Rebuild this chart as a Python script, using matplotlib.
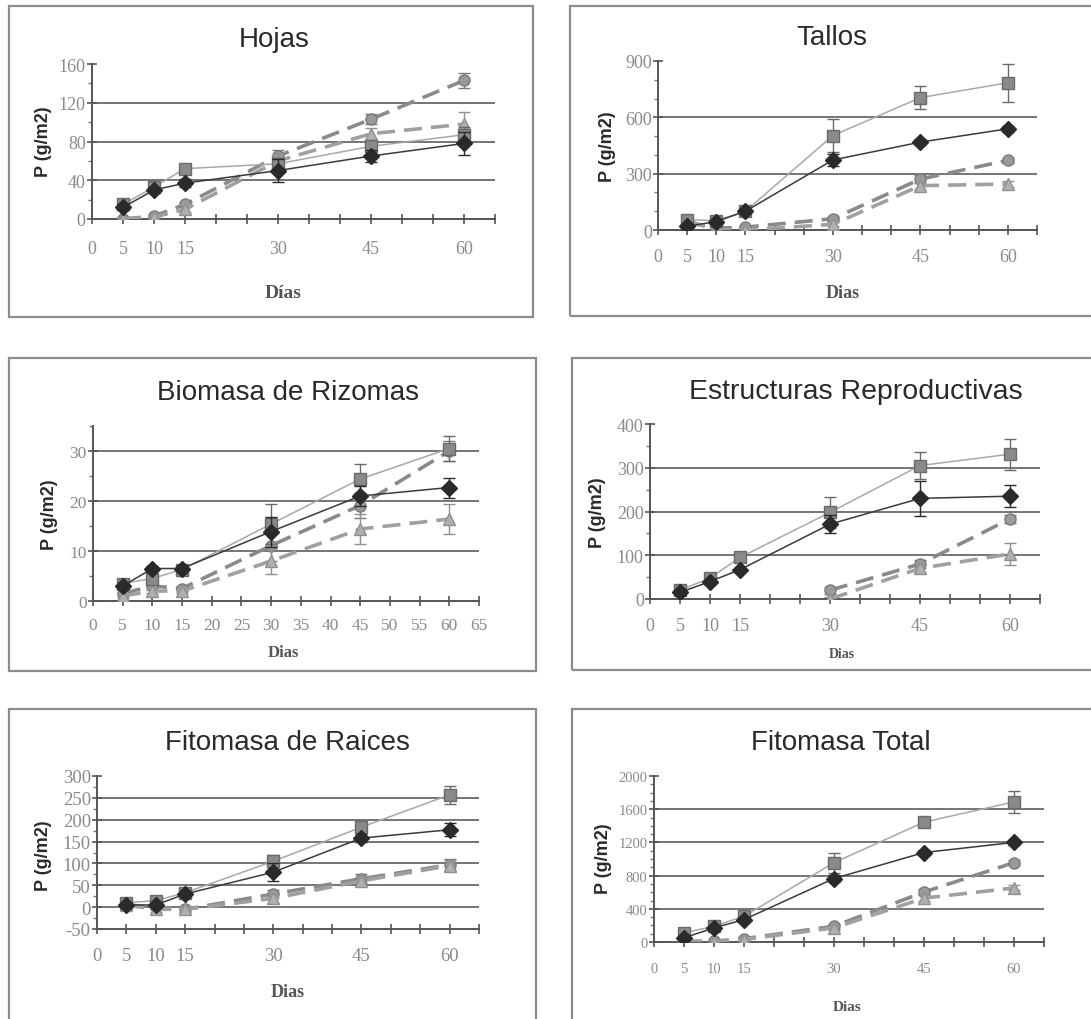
import numpy as np
import matplotlib
matplotlib.use("Agg")
import matplotlib.pyplot as plt
from matplotlib.patches import Rectangle
from matplotlib.ticker import MultipleLocator

plt.rcParams["axes.unicode_minus"] = False

nan = np.nan
dias = [5, 10, 15, 30, 45, 60]

# Hojas
hojas_diamante = [12, 30, 37, 50, 65, 78]
hojas_cuadrado = [15, 33, 52, 57, 75, 87]
hojas_circulo = [0, 3, 15, 65, 103, 143]
hojas_triangulo = [0, 2, 10, 60, 88, 98]
hojas_err_diamante = [3, 3, 4, 12, 6, 12]
hojas_err_cuadrado = [3, 3, 3, 6, 5, 8]
hojas_err_circulo = [2, 2, 3, 6, 5, 8]
hojas_err_triangulo = [1, 1, 3, 8, 6, 12]

# Tallos
tallos_diamante = [20, 45, 100, 373, 468, 539]
tallos_cuadrado = [55, 50, 100, 503, 705, 784]
tallos_circulo = [40, 10, 15, 60, 271, 371]
tallos_triangulo = [50, 0, 0, 30, 236, 245]
tallos_err_diamante = [5, 5, 10, 30, 15, 15]
tallos_err_cuadrado = [10, 10, 20, 90, 60, 100]
tallos_err_circulo = [5, 5, 5, 10, 20, 15]
tallos_err_triangulo = [5, 5, 5, 10, 15, 15]

# Biomasa de Rizomas
rizomas_diamante = [3, 6.5, 6.5, 13.9, 21, 22.7]
rizomas_cuadrado = [3.5, 4.5, 6.3, 15.4, 24.4, 30.5]
rizomas_circulo = [1.5, 3, 2.5, 11.1, 19.1, 30]
rizomas_triangulo = [1, 2, 2, 8, 14.4, 16.4]
rizomas_err_diamante = [0.3, 0.5, 0.5, 3, 2, 2]
rizomas_err_cuadrado = [0.5, 0.5, 0.5, 4, 3, 2.5]
rizomas_err_circulo = [0.3, 0.3, 0.3, 3, 2.5, 2]
rizomas_err_triangulo = [0.3, 0.3, 0.3, 2.5, 3, 3]

# Estructuras Reproductivas
reprod_diamante = [15, 40, 67, 171, 230, 235]
reprod_cuadrado = [20, 48, 95, 198, 305, 331]
reprod_circulo = [nan, nan, nan, 20, 80, 183]
reprod_triangulo = [nan, nan, nan, 0, 70, 103]
reprod_err_diamante = [5, 5, 5, 20, 40, 25]
reprod_err_cuadrado = [5, 5, 8, 35, 30, 35]
reprod_err_circulo = [nan, nan, nan, 8, 10, 10]
reprod_err_triangulo = [nan, nan, nan, 5, 10, 25]

# Fitomasa de Raices
raices_diamante = [5, 5, 30, 80, 158, 177]
raices_cuadrado = [10, 15, 33, 105, 183, 257]
raices_circulo = [5, 0, -5, 30, 65, 97]
raices_triangulo = [5, -5, -5, 20, 60, 95]
raices_err_diamante = [5, 5, 5, 20, 10, 15]
raices_err_cuadrado = [5, 5, 8, 15, 10, 20]
raices_err_circulo = [5, 5, 5, 10, 10, 12]
raices_err_triangulo = [5, 5, 5, 10, 10, 12]

# Fitomasa Total
total_diamante = [50, 170, 270, 765, 1078, 1200]
total_cuadrado = [110, 190, 310, 956, 1444, 1688]
total_circulo = [10, 10, 40, 190, 602, 956]
total_triangulo = [0, 0, 30, 170, 529, 651]
total_err_diamante = [20, 20, 30, 40, 30, 30]
total_err_cuadrado = [30, 30, 40, 120, 60, 130]
total_err_circulo = [10, 10, 10, 30, 40, 30]
total_err_triangulo = [10, 10, 10, 30, 40, 30]

W, H = 1091, 1020
fig = plt.figure(figsize=(W / 100, H / 100), dpi=100)
fig.patch.set_facecolor("white")

SERIF = "Liberation Serif"
SANS = "Liberation Sans"


def fx(x):
    return x / W


def fy(y):
    return 1 - y / H


panels = [
    dict(title="Hojas", xlabel="Días",
         box=(9, 7, 533, 318), ax=(92, 65, 495, 220), ylim=(0, 160), major=40, minor=20,
         grid=[40, 80, 120], title_xy=(274, 40), tsize=20, ylab_xy=(43, 142),
         xlab_xy=(283, 293), xlsize=14, ticksize=13, xpad=11.5,
         xlabels=[0, 5, 10, 15, 30, 45, 60],
         data=(hojas_diamante, hojas_cuadrado, hojas_circulo, hojas_triangulo),
         err=(hojas_err_diamante, hojas_err_cuadrado, hojas_err_circulo, hojas_err_triangulo)),
    dict(title="Tallos", xlabel="Dias",
         box=(570, 7, 1100, 317), ax=(658, 62, 1037, 231), ylim=(0, 900), major=300, minor=100,
         grid=[300, 600], title_xy=(832, 38), tsize=20, ylab_xy=(608, 147),
         xlab_xy=(843, 293), xlsize=13, ticksize=13, xpad=9.5,
         xlabels=[0, 5, 10, 15, 30, 45, 60],
         data=(tallos_diamante, tallos_cuadrado, tallos_circulo, tallos_triangulo),
         err=(tallos_err_diamante, tallos_err_cuadrado, tallos_err_circulo, tallos_err_triangulo)),
    dict(title="Biomasa de Rizomas", xlabel="Dias",
         box=(9, 359, 536, 672), ax=(93, 427, 479, 602), ylim=(0, 35), major=10, minor=5,
         grid=[10, 20, 30], title_xy=(288, 393), tsize=20, ylab_xy=(50, 515),
         xlab_xy=(283, 653), xlsize=12, ticksize=12.5, xpad=8,
         xlabels=list(range(0, 70, 5)),
         data=(rizomas_diamante, rizomas_cuadrado, rizomas_circulo, rizomas_triangulo),
         err=(rizomas_err_diamante, rizomas_err_cuadrado, rizomas_err_circulo, rizomas_err_triangulo)),
    dict(title="Estructuras Reproductivas", xlabel="Dias",
         box=(572, 359, 1100, 671), ax=(650, 425, 1040, 600), ylim=(0, 400), major=100, minor=50,
         grid=[100, 200, 300], title_xy=(856, 392), tsize=20.5, ylab_xy=(597, 513),
         xlab_xy=(842, 655), xlsize=10, ticksize=13, xpad=9.5,
         xlabels=[0, 5, 10, 15, 30, 45, 60],
         data=(reprod_diamante, reprod_cuadrado, reprod_circulo, reprod_triangulo),
         err=(reprod_err_diamante, reprod_err_cuadrado, reprod_err_circulo, reprod_err_triangulo)),
    dict(title="Fitomasa de Raices", xlabel="Dias",
         box=(9, 710, 536, 1040), ax=(97, 777, 479, 930), ylim=(-50, 300), major=50, minor=25,
         grid=[0, 50, 100, 150, 200, 250], title_xy=(287, 743), tsize=20, ylab_xy=(43, 856),
         xlab_xy=(288, 993), xlsize=13, ticksize=13.5, xpad=9.5,
         xlabels=[0, 5, 10, 15, 30, 45, 60],
         data=(raices_diamante, raices_cuadrado, raices_circulo, raices_triangulo),
         err=(raices_err_diamante, raices_err_cuadrado, raices_err_circulo, raices_err_triangulo)),
    dict(title="Fitomasa Total", xlabel="Dias",
         box=(572, 710, 1100, 1040), ax=(654, 777, 1044, 943), ylim=(0, 2000), major=400, minor=100,
         grid=[400, 800, 1200, 1600], title_xy=(841, 743), tsize=20, ylab_xy=(604, 859),
         xlab_xy=(847, 1008), xlsize=11, ticksize=10.5, xpad=11,
         xlabels=[0, 5, 10, 15, 30, 45, 60],
         data=(total_diamante, total_cuadrado, total_circulo, total_triangulo),
         err=(total_err_diamante, total_err_cuadrado, total_err_circulo, total_err_triangulo)),
]

styles = [
    dict(marker="D", ms=8, mfc="#2a2a2a", mec="#2a2a2a", color="#3a3a3a", lw=1.1, ls="-", z=5),
    dict(marker="s", ms=8.5, mfc="#8a8a8a", mec="#6a6a6a", color="#a8a8a8", lw=1.1, ls="-", z=4),
    dict(marker="o", ms=8, mfc="#9a9a9a", mec="#7a7a7a", color="#8a8a8a", lw=2.6, ls=(0, (5, 2.5)), z=3),
    dict(marker="^", ms=9, mfc="#b0b0b0", mec="#909090", color="#a0a0a0", lw=2.6, ls=(0, (5, 2.5)), z=3),
]

for p in panels:
    x0, y0, x1, y1 = p["box"]
    fig.patches.append(Rectangle((fx(x0), fy(y1)), fx(x1 - x0), (y1 - y0) / H,
                                 transform=fig.transFigure, fill=False,
                                 edgecolor="#8c8c8c", linewidth=1.6, zorder=0))
    ax0, ay0, ax1, ay1 = p["ax"]
    ax = fig.add_axes([fx(ax0), fy(ay1), fx(ax1 - ax0), (ay1 - ay0) / H])
    ax.set_facecolor("none")
    ax.set_xlim(0, 65)
    ax.set_ylim(*p["ylim"])
    for g in p["grid"]:
        ax.axhline(g, color="#6a6a6a", lw=1.3, zorder=1)
    for d, e, s in zip(p["data"], p["err"], styles):
        ax.errorbar(dias, d, yerr=e, fmt="none", ecolor=s["mec"], elinewidth=1.0,
                    capsize=4, capthick=1.0, zorder=s["z"])
        ax.plot(dias, d, marker=s["marker"], ms=s["ms"], mfc=s["mfc"], mec=s["mec"],
                color=s["color"], lw=s["lw"], ls=s["ls"], zorder=s["z"])
    for side in ("top", "right"):
        ax.spines[side].set_visible(False)
    for side in ("left", "bottom"):
        ax.spines[side].set_color("#555555")
        ax.spines[side].set_linewidth(1.4)
    ax.yaxis.set_major_locator(MultipleLocator(p["major"]))
    ax.yaxis.set_minor_locator(MultipleLocator(p["minor"]))
    xt = list(range(0, 70, 5))
    ax.set_xticks(xt)
    ax.set_xticklabels([str(v) if v in p["xlabels"] else "" for v in xt])
    ax.tick_params(axis="x", direction="inout", length=7, width=1.2, color="#555555",
                   pad=p["xpad"], labelsize=p["ticksize"], labelcolor="#8a8a8a")
    ax.tick_params(axis="y", which="major", direction="inout", length=7, width=1.2,
                   color="#555555", pad=1, labelsize=p["ticksize"], labelcolor="#8a8a8a")
    ax.tick_params(axis="y", which="minor", direction="out", length=3, width=1.0,
                   color="#777777")
    for lab in ax.get_xticklabels() + ax.get_yticklabels():
        lab.set_fontfamily(SERIF)
    tx, ty = p["title_xy"]
    fig.text(fx(tx), fy(ty), p["title"], ha="center", va="center",
             fontsize=p["tsize"], family=SANS, color="#2a2a2a")
    lx, ly = p["ylab_xy"]
    fig.text(fx(lx), fy(ly), "P (g/m2)", ha="center", va="center", rotation=90,
             fontsize=13, family=SANS, fontweight="bold", color="#2a2a2a")
    xx, xy = p["xlab_xy"]
    fig.text(fx(xx), fy(xy), p["xlabel"], ha="center", va="center",
             fontsize=p["xlsize"], family=SERIF, fontweight="bold", color="#555555")

fig.savefig("out.png", dpi=100, facecolor="white")
